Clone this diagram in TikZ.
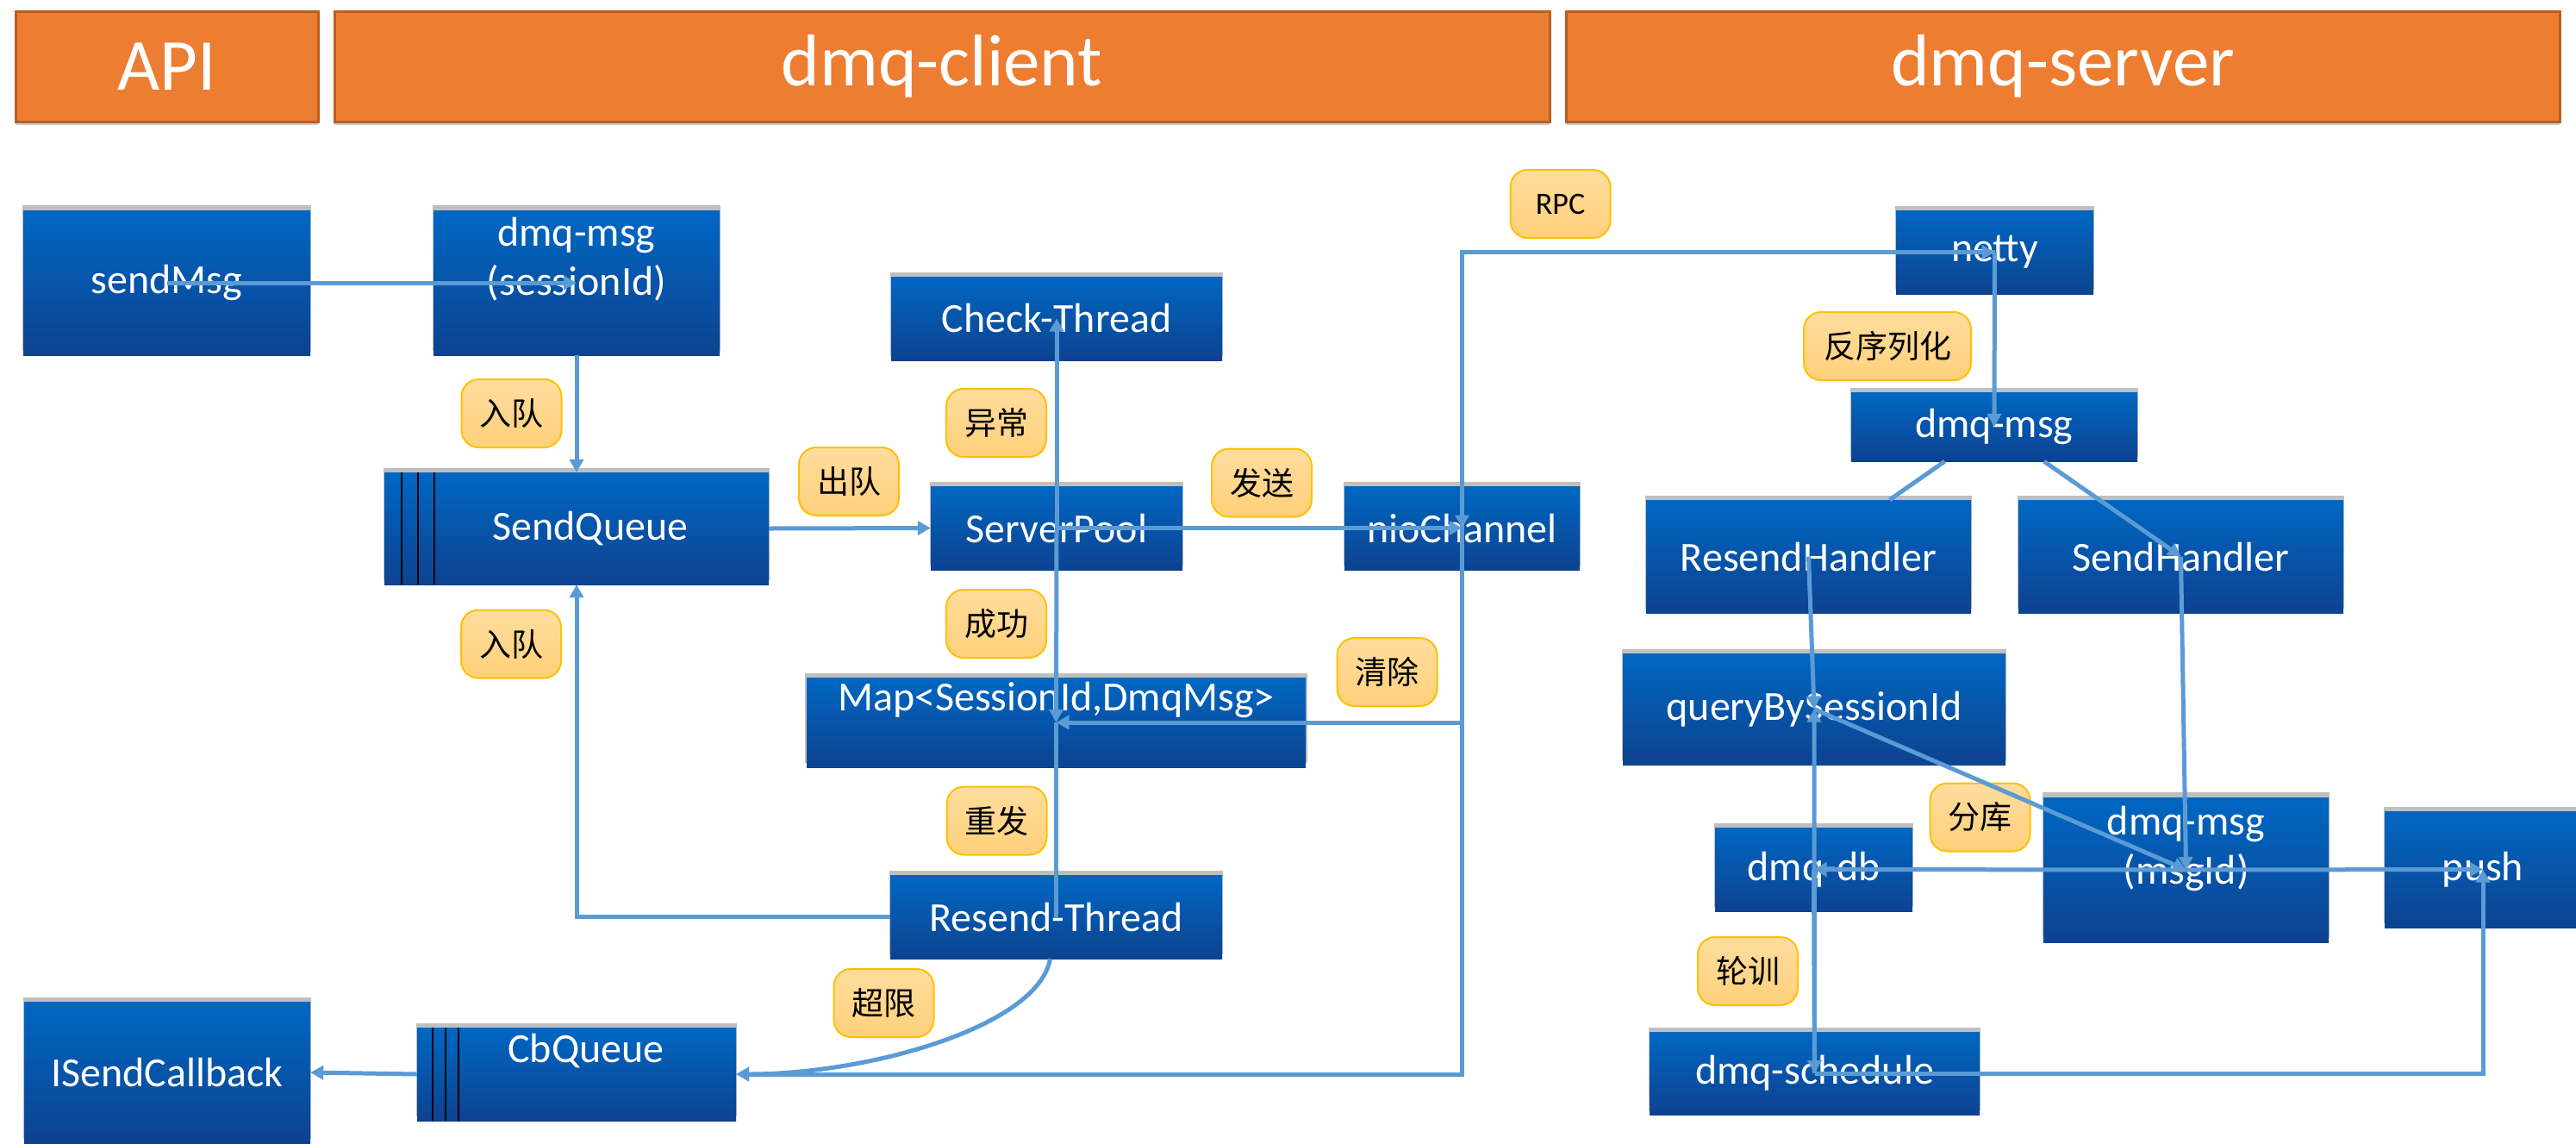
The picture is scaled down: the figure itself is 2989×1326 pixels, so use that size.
\documentclass[tikz,border=0pt]{standalone}
\usepackage{fontspec}
\setmainfont{Carlito}
\newfontfamily\cjkfont{Noto Sans CJK SC}
\usetikzlibrary{arrows.meta,shadows}
\definecolor{hdrfill}{HTML}{ED7D31}
\definecolor{hdrdraw}{HTML}{B85F22}
\definecolor{boxtop}{HTML}{0067C2}
\definecolor{boxbot}{HTML}{0D4290}
\definecolor{tagtop}{HTML}{FFDD9E}
\definecolor{tagbot}{HTML}{FFD07A}
\definecolor{tagdraw}{HTML}{FFC000}
\definecolor{connblue}{HTML}{5B9BD5}
\tikzset{
  hdr/.style={draw=hdrdraw, line width=3pt, fill=hdrfill, text=white,
    font=\fontsize{85}{100}\selectfont, inner sep=0pt,
    drop shadow={shadow xshift=0pt, shadow yshift=-4pt, opacity=.2, fill=black}},
  bbox/.style={top color=boxtop, bottom color=boxbot, text=white,
    font=\fontsize{48}{57}\selectfont, inner sep=0pt, align=center,
    drop shadow={shadow xshift=0pt, shadow yshift=5pt, shadow scale=1.006, opacity=.25, fill=black}},
  btext/.style={text=white, font=\fontsize{48}{57}\selectfont, inner sep=0pt, align=center},
  tag/.style={rounded corners=20pt, top color=tagtop, bottom color=tagbot, draw=tagdraw,
    line width=2pt, minimum width=116pt, minimum height=79pt, inner sep=0pt,
    font=\cjkfont\fontsize{37}{44}\selectfont},
  conn/.style={draw=connblue, line width=5pt, -{Triangle[length=15pt,width=16pt]}},
  link/.style={draw=connblue, line width=5pt},
  qline/.style={draw=black, line width=2pt},
}
\begin{document}
\begin{tikzpicture}[x=1pt,y=-1pt]
\useasboundingbox (0,0) rectangle (2989,1326);
% headers
\node[hdr, minimum width=351pt, minimum height=128pt] (api) at (193.5,77) {API};
\node[hdr, minimum width=1410pt, minimum height=128pt] (client) at (1093,77) {dmq-client};
\node[hdr, minimum width=1153pt, minimum height=128pt] (server) at (2393.5,77) {dmq-server};
% client boxes
\node[bbox, minimum width=333pt, minimum height=168pt] (sendmsg) at (193.5,328) {sendMsg};
\node[bbox, minimum width=332pt, minimum height=168pt] (dm1) at (669,328) {};
\node[btext] (dm1t) at (669,301) {dmq-msg\\(sessionId)};
\node[bbox, minimum width=384pt, minimum height=97pt] (check) at (1226,369.5) {Check-Thread};
\node[bbox, minimum width=446pt, minimum height=130pt] (sendq) at (669,613) {};
\node[btext] (sendqt) at (685,613) {SendQueue};
\node[bbox, minimum width=292pt, minimum height=97pt] (spool) at (1226,612.5) {ServerPool};
\node[bbox, minimum width=273pt, minimum height=97pt] (nio) at (1696.5,612.5) {nioChannel};
\node[bbox, minimum width=579pt, minimum height=104pt] (map) at (1225.5,838) {};
\node[btext] (mapt) at (1225.5,812) {Map<SessionId,DmqMsg>};
\node[bbox, minimum width=385pt, minimum height=97pt] (resend) at (1225.5,1063.5) {Resend-Thread};
\node[bbox, minimum width=332pt, minimum height=164pt] (isc) at (194,1244) {ISendCallback};
\node[bbox, minimum width=370pt, minimum height=108pt] (cbq) at (669,1246) {};
\node[btext] (cbqt) at (680,1219) {CbQueue};
% queue marks
\foreach \o in {20,39,58}
  \draw[qline] ([xshift=\o pt]sendq.north west) -- ([xshift=\o pt]sendq.south west);
\foreach \o in {18,33,48}
  \draw[qline] ([xshift=\o pt]cbq.north west) -- ([xshift=\o pt]cbq.south west);
% server boxes
\node[bbox, minimum width=229pt, minimum height=97pt] (netty) at (2314.5,292.5) {netty};
\node[bbox, minimum width=332pt, minimum height=80pt] (dmsg2) at (2314,495) {dmq-msg};
\node[bbox, minimum width=377pt, minimum height=131pt] (resendh) at (2098.5,645.5) {ResendHandler};
\node[bbox, minimum width=377pt, minimum height=131pt] (sendh) at (2530.5,645.5) {SendHandler};
\node[bbox, minimum width=444pt, minimum height=129pt] (query) at (2105,822.5) {queryBySessionId};
\node[bbox, minimum width=229pt, minimum height=97pt] (db) at (2104.5,1008.5) {dmq-db};
\node[bbox, minimum width=331pt, minimum height=168pt] (msgid) at (2536.5,1009) {};
\node[btext] (msgidt) at (2536.5,984) {dmq-msg\\(msgId)};
\node[bbox, minimum width=228pt, minimum height=135pt] (push) at (2881,1008.5) {push};
\node[bbox, minimum width=383pt, minimum height=96pt] (sched) at (2105.5,1245) {dmq-schedule};
% tags
\node[tag] (tin1) at (593.5,479.5) {入队};
\node[tag] (tin2) at (593,747) {入队};
\node[tag] (tout) at (985,558.5) {出队};
\node[tag] (texc) at (1156,490.5) {异常};
\node[tag] (tsend) at (1464,560) {发送};
\node[tag] (tok) at (1156,723.5) {成功};
\node[tag] (tclr) at (1609.5,779.5) {清除};
\node[tag] (tres) at (1156.5,952) {重发};
\node[tag] (tlim) at (1025.5,1163.5) {超限};
\node[tag, font=\fontsize{36}{44}\selectfont] (trpc) at (1810.5,236.5) {RPC};
\node[tag, minimum width=194pt] (tdes) at (2190,401.5) {反序列化};
\node[tag] (tshard) at (2297.5,948) {分库};
\node[tag] (tpoll) at (2028,1126.5) {轮训};
% connectors
\draw[conn] (sendmsg.center) -- (dm1.center);
\draw[conn] (dm1.south) -- (sendq.north);
\draw[conn] (sendq.east) -- (spool.west);
\draw[conn] (spool.center) -- (check.center);
\draw[conn] (spool.center) -- (map.center);
\draw[conn] (spool.center) -- (nio.center);
\draw[link] (resend.center) -- (map.center);
\draw[conn] (resend.west) -| (sendq.south);
\draw[conn] ([xshift=-7pt]resend.south) .. controls (1205,1190) and (1010,1246) .. (cbq.east);
\draw[conn] (cbq.west) -- (isc.east);
\draw[conn] (nio.center) |- (netty.center);
\draw[conn] (netty.center) -| (nio.center);
\draw[conn] (nio.center) |- (map.center);
\draw[conn] (nio.center) |- (cbq.east);
\draw[conn] (netty.center) -- (dmsg2.center);
\draw[link] (dmsg2) -- (resendh);
\draw[conn] (dmsg2) -- (sendh.center);
\draw[conn] (resendh.center) -- (query.center);
\draw[conn] (sched.center) -- (query.center);
\draw[conn] (db.center) -- (sched.center);
\draw[conn] (query.center) -- (msgid.center);
\draw[conn] (sendh.center) -- (msgid.center);
\draw[conn] (msgid.center) -- (db.center);
\draw[conn] (msgid.center) -- (push.center);
\draw[conn] (sched.center) -| (push.center);
\end{tikzpicture}
\end{document}
